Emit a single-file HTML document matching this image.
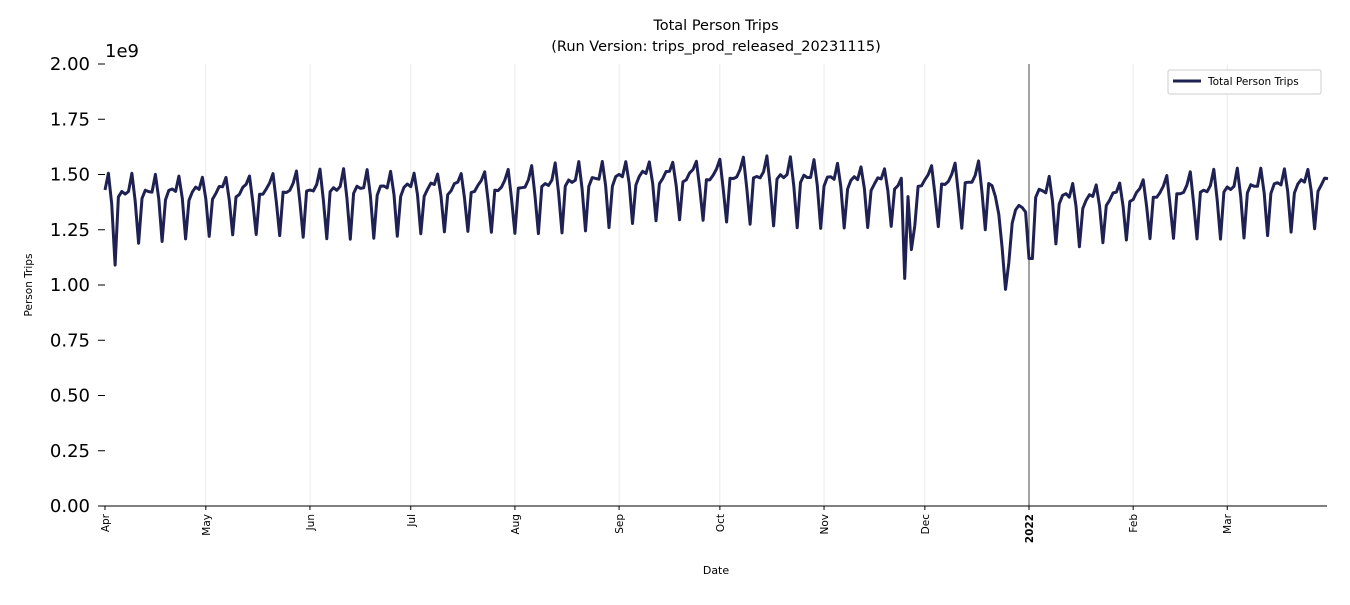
<!DOCTYPE html>
<html><head><meta charset="utf-8"><style>
body{margin:0;background:#fff;width:1350px;height:600px;overflow:hidden;font-family:"Liberation Sans","DejaVu Sans",sans-serif}
</style></head><body>
<svg id="s" width="1350" height="600" xmlns="http://www.w3.org/2000/svg" font-family="DejaVu Sans, Liberation Sans, sans-serif">
<text x="716" y="30" font-size="14.5" text-anchor="middle">Total Person Trips</text>
<text x="716" y="51" font-size="14.5" text-anchor="middle">(Run Version: trips_prod_released_20231115)</text>
<text x="105" y="57" font-size="18">1e9</text>
<text x="32" y="285" font-size="10.5" text-anchor="middle" transform="rotate(-90 32 285)">Person Trips</text>
<text x="716" y="574" font-size="11" text-anchor="middle">Date</text>
<g id="grid"></g>
<line x1="1029" y1="64" x2="1029" y2="506" stroke="#333" stroke-width="0.9"/>
<line x1="105" y1="506" x2="1327" y2="506" stroke="#000" stroke-width="1"/>
<g id="yt"></g>
<polyline id="ln" fill="none" stroke="#1e2152" stroke-width="3" stroke-linejoin="round"/>
<rect x="1168" y="70" width="153" height="24" fill="#fff" stroke="#ccc" rx="2"/>
<line x1="1173" y1="81" x2="1201" y2="81" stroke="#1e2152" stroke-width="3"/>
<text x="1208" y="85" font-size="10.5">Total Person Trips</text>
</svg>
<script>
const NS="http://www.w3.org/2000/svg";const s=document.getElementById('s');
const X0=105,PD=3.36,Y=v=>506-v*221;
function el(t,a,p,txt){const e=document.createElementNS(NS,t);for(const k in a)e.setAttribute(k,a[k]);if(txt)e.textContent=txt;(p||s).appendChild(e);return e;}
const g=document.getElementById('grid'),yt=document.getElementById('yt');
const months=[["Apr",0],["May",30],["Jun",61],["Jul",91],["Aug",122],["Sep",153],["Oct",183],["Nov",214],["Dec",244],["2022",275],["Feb",306],["Mar",334]];
months.forEach(([m,d])=>{const x=X0+d*PD;if(m!="2022"&&d>0)el('line',{x1:x,y1:64,x2:x,y2:506,stroke:'#e6e6e6','stroke-width':0.8},g);
el('line',{x1:x,y1:506,x2:x,y2:510,stroke:'#000'},yt);
el('text',{x:x+4,y:514,'font-size':10.5,'text-anchor':'end',transform:`rotate(-90 ${x+4} 514)`,'font-weight':m=="2022"?'bold':'normal'},yt,m);});
for(let i=0;i<=8;i++){const v=i*0.25,y=Y(v);el('line',{x1:98,y1:y,x2:105,y2:y,stroke:'#000'},yt);
el('text',{x:90,y:y+6,'font-size':18,'text-anchor':'end'},yt,v.toFixed(2));}
function level(d){const k=[[0,1.40],[60,1.42],[120,1.43],[160,1.48],[200,1.48],[230,1.45],[262,1.46],[290,1.37],[320,1.41],[364,1.45]];
for(let i=0;i<k.length-1;i++){if(d<=k[i+1][0]){const t=(d-k[i][0])/(k[i+1][0]-k[i][0]);return k[i][1]+t*(k[i+1][1]-k[i][1]);}}return 1.45;}
const off=[-0.01,0.01,0.02,0.03,0.09,-0.03,-0.20];
const sp={3:1.09,238:1.03,239:1.40,240:1.16,264:1.45,265:1.40,266:1.32,267:1.17,268:0.98,269:1.10,270:1.28,271:1.34,272:1.36,273:1.35,274:1.33,275:1.12,276:1.12};
let pts=[];
for(let d=0;d<=364;d++){const dow=(d+3)%7;let v=level(d)+off[dow]+0.015*Math.sin(d*1.7);if(sp[d]!==undefined)v=sp[d];pts.push((X0+d*PD).toFixed(1)+","+Y(v).toFixed(1));}
document.getElementById('ln').setAttribute('points',pts.join(' '));
</script>
</body></html>
